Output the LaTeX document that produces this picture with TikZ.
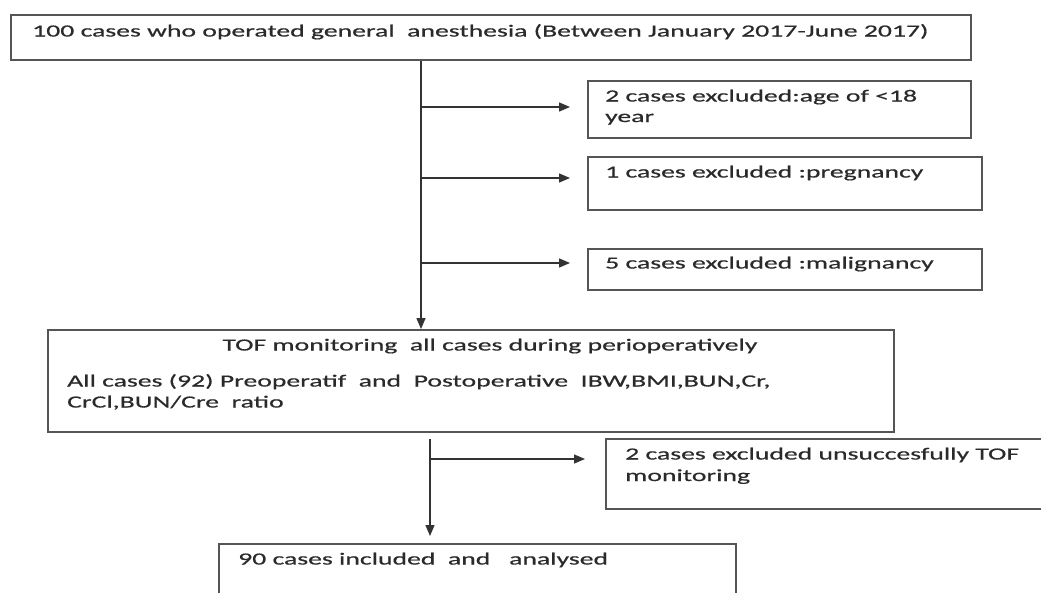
\documentclass[tikz,border=0pt]{standalone}
\usepackage{fontspec}
\setmainfont{Carlito}[FakeStretch=1.63,FakeBold=0.6]
\usetikzlibrary{arrows.meta,calc}
\definecolor{boxgray}{HTML}{555555}
\definecolor{linegray}{HTML}{333333}
\definecolor{txtgray}{HTML}{2A2A2A}
\newcommand{\mytextfont}{\fontsize{17}{20.5}\selectfont}
\begin{document}
\begin{tikzpicture}[x=1pt,y=-1pt,
  box/.style={draw=boxgray, line width=1.5pt, inner sep=0pt, anchor=north west, fill=none},
  txt/.style={anchor=base west, inner sep=0pt, text=txtgray, font=\mytextfont},
  conn/.style={line width=1.3pt, draw=linegray},
  arr/.style={conn, -{Triangle[length=11pt,width=9pt]}}]
\useasboundingbox[fill=white] (0,0) rectangle (1041,592);

% boxes
\node[box, minimum width=960pt, minimum height=45pt] (top) at (10,14) {};
\node[box, minimum width=383pt, minimum height=57pt] (exA) at (587,80) {};
\node[box, minimum width=394pt, minimum height=53pt] (exB) at (587,156) {};
\node[box, minimum width=394pt, minimum height=41pt] (exC) at (587,248) {};
\node[box, minimum width=846pt, minimum height=102pt] (tof) at (47,329) {};
\node[box, minimum width=460pt, minimum height=70pt] (exD) at (605,438) {};
\node[box, minimum width=517pt, minimum height=70pt] (incl) at (218,543) {};

% texts
\node[txt] (ttop) at (32,36.5) {100 cases who operated general~ anesthesia (Between January 2017-June 2017)};
\node[txt] (tA1) at (605,101.5) {2 cases excluded:age of <18};
\node[txt] (tA2) at (605,122) {year};
\node[txt] (tB) at (605,177.5) {1 cases excluded :pregnancy};
\node[txt] (tC) at (605,268.5) {5 cases excluded :malignancy};
\node[txt, anchor=base] (tT1) at (490,350.5) {TOF monitoring~ all cases during perioperatively};
\node[txt] (tT2) at (67,386.5) {All cases (92) Preoperatif~ and~ Postoperative~ IBW,BMI,BUN,Cr,};
\node[txt] (tT3) at (67,407.5) {CrCl,BUN/Cre~ ratio};
\node[txt] (tD1) at (625,459.5) {2 cases excluded unsuccesfully TOF};
\node[txt] (tD2) at (625,481) {monitoring};
\node[txt] (tE) at (238,564.5) {90 cases included~ and~~ analysed};

% connectors
\coordinate (trunk) at (421,0);
\draw[arr] (top.south -| trunk) -- (tof.north -| trunk);
\coordinate (jA) at (421,107);
\coordinate (jB) at (421,178);
\coordinate (jC) at (421,263);
\draw[arr, shorten >=17pt] (jA) -- (jA -| exA.west);
\draw[arr, shorten >=17pt] (jB) -- (jB -| exB.west);
\draw[arr, shorten >=17pt] (jC) -- (jC -| exC.west);

\coordinate (trunk2) at (430,439);
\draw[arr, shorten >=7pt] (trunk2) -- (trunk2 |- incl.north);
\coordinate (jD) at (430,459);
\draw[arr, shorten >=20pt] (jD) -- (jD -| exD.west);
\end{tikzpicture}
\end{document}
